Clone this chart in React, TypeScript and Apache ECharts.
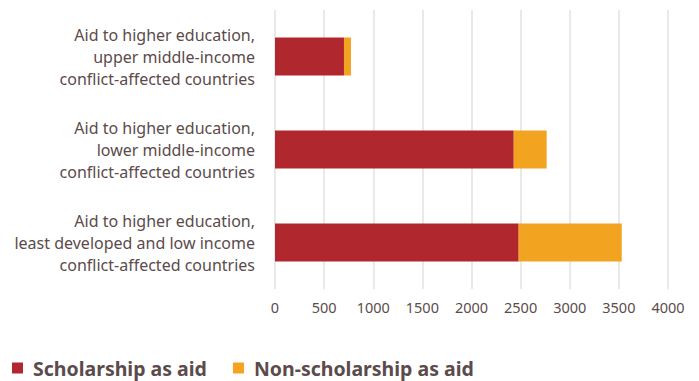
import React, { useEffect, useRef } from "react";
import * as echarts from "echarts";

const categories = [
  "Aid to higher education,\nupper middle-income\nconflict-affected countries",
  "Aid to higher education,\nlower middle-income\nconflict-affected countries",
  "Aid to higher education,\nleast developed and low income\nconflict-affected countries",
];
const scholarship = [702, 2430, 2480];
const nonScholarship = [71, 335, 1049];
const seriesNames = ["Scholarship as aid", "Non-scholarship as aid"];

const TEXT = "#5b4b4b";
const FONT = "'Noto Sans', sans-serif";

export default function App() {
  const ref = useRef<HTMLDivElement>(null);
  useEffect(() => {
    if (!ref.current) return;
    const chart = echarts.init(ref.current, null, { renderer: "svg" });
    chart.setOption({
      animation: false,
      backgroundColor: "#ffffff",
      textStyle: { fontFamily: FONT },
      grid: { left: 275, right: 31, top: 10, bottom: 92, containLabel: false },
      legend: {
        left: 7,
        top: 353,
        icon: "rect",
        itemWidth: 11,
        itemHeight: 11,
        itemGap: 26,
        textStyle: {
          color: TEXT,
          fontSize: 19.5,
          fontWeight: "bold",
          fontFamily: FONT,
          padding: [0, 0, 0, 5],
        },
        data: seriesNames,
      },
      xAxis: {
        type: "value",
        min: 0,
        max: 4000,
        interval: 500,
        axisLine: { show: false },
        axisTick: { show: false },
        axisLabel: {
          color: TEXT,
          fontSize: 14.5,
          margin: 10,
          fontFamily: FONT,
          formatter: (v: number) => String(v),
        },
        splitLine: { show: true, lineStyle: { color: "#e2e2e2", width: 1.5 } },
      },
      yAxis: {
        type: "category",
        inverse: true,
        data: categories,
        axisLine: { show: false },
        axisTick: { show: false },
        axisLabel: {
          color: TEXT,
          fontSize: 16,
          lineHeight: 22,
          margin: 20,
          align: "right",
          fontFamily: FONT,
        },
      },
      series: [
        {
          name: seriesNames[0],
          type: "bar",
          stack: "total",
          data: scholarship,
          barWidth: 38,
          itemStyle: { color: "#b0282e" },
        },
        {
          name: seriesNames[1],
          type: "bar",
          stack: "total",
          data: nonScholarship,
          barWidth: 38,
          itemStyle: { color: "#f2a31f" },
        },
      ],
    });
    return () => chart.dispose();
  }, []);
  return (
    <div
      ref={ref}
      style={{ position: "fixed", left: 0, top: 0, width: 699, height: 381 }}
    />
  );
}
